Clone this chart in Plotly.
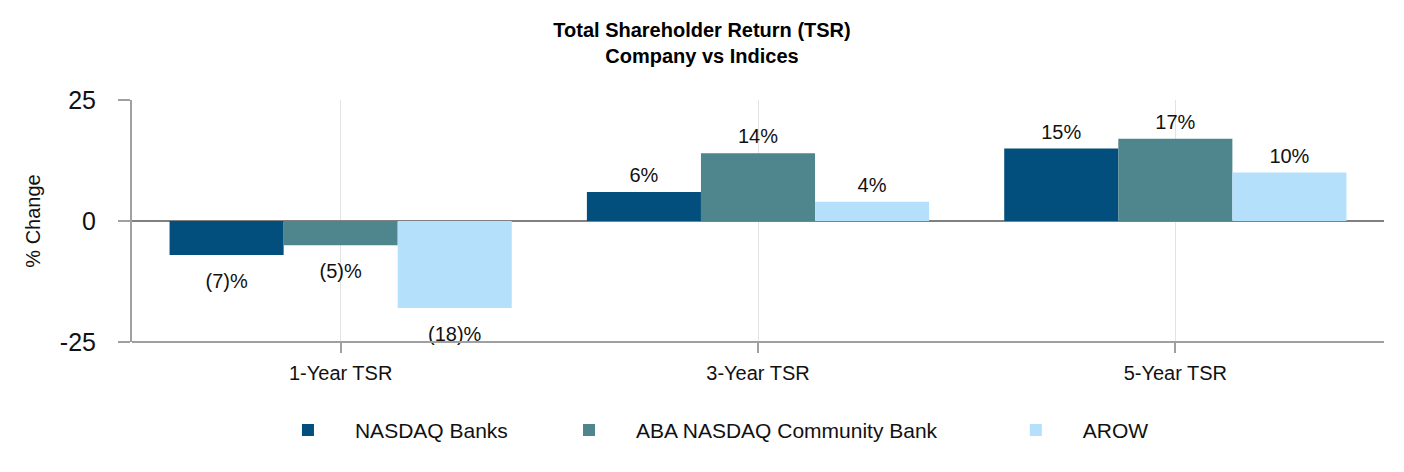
import plotly.graph_objects as go

categories = ["1-Year TSR", "3-Year TSR", "5-Year TSR"]
series_names = ["NASDAQ Banks", "ABA NASDAQ Community Bank", "AROW"]
nasdaq_banks = [-7, 6, 15]
aba_community = [-5, 14, 17]
arow = [-18, 4, 10]
colors = ["#024E7C", "#4F858C", "#B5E0FC"]
y_ticks = [25, 0, -25]

BARGAP = 0.18
LEGEND_PAD = [5, 8, 8]


def fmt(v):
    return f"({abs(v)})%" if v < 0 else f"{v}%"


fig = go.Figure()
for i, (name, vals, col) in enumerate(zip(series_names, [nasdaq_banks, aba_community, arow], colors)):
    fig.add_trace(go.Bar(
        x=categories, y=vals, name=name + "\u00a0" * LEGEND_PAD[i],
        marker=dict(color=col, line=dict(width=0)),
        offsetgroup=str(i), hoverinfo="skip",
    ))
for i, vals in enumerate([nasdaq_banks, aba_community, arow]):
    fig.add_trace(go.Scatter(
        x=categories, y=vals, mode="markers+text", showlegend=False,
        offsetgroup=str(i), hoverinfo="skip",
        marker=dict(size=[27 if v < 0 else 6 for v in vals], color="rgba(0,0,0,0)",
                    line=dict(width=0)),
        text=[fmt(v) for v in vals],
        textposition=["bottom center" if v < 0 else "top center" for v in vals],
        textfont=dict(size=20, color="#111"), cliponaxis=False,
    ))

fig.update_layout(
    width=1404, height=472,
    margin=dict(l=132, r=20, t=100, b=130, autoexpand=False),
    paper_bgcolor="white", plot_bgcolor="white",
    font=dict(family="Liberation Sans, Arial, sans-serif", color="#111"),
    title=dict(text="<b>Total Shareholder Return (TSR)</b><br><b>Company vs Indices</b>",
               x=0.5, xanchor="center", y=1 - 37 / 472, yanchor="middle",
               font=dict(size=20, color="#000")),
    barmode="group", bargap=BARGAP, bargroupgap=0,
    scattermode="group", scattergap=BARGAP,
    xaxis=dict(showline=True, linecolor="#a0a0a0", linewidth=2, mirror=False,
               showgrid=True, gridcolor="#e3e3e3", gridwidth=1,
               ticks="outside", ticklen=10, tickcolor="#a0a0a0", tickwidth=2,
               ticklabelstandoff=3,
               tickfont=dict(size=20, color="#111"), anchor="free", position=0),
    yaxis=dict(range=[-25, 25], tickvals=y_ticks, ticktext=[str(v) for v in y_ticks],
               showline=True, linecolor="#a0a0a0", linewidth=2,
               showgrid=True, gridcolor="#e3e3e3", gridwidth=1,
               zeroline=True, zerolinecolor="#808080", zerolinewidth=2,
               ticks="outside", ticklen=12, tickcolor="#a0a0a0", tickwidth=2,
               ticklabelstandoff=17,
               tickfont=dict(size=25, color="#111"),
               title=dict(text="% Change", font=dict(size=20, color="#111"), standoff=14)),
    legend=dict(orientation="h", x=0.478, xanchor="center",
                y=-0.28, yanchor="top",
                font=dict(size=21, color="#111"), itemwidth=84, traceorder="normal"),
)

fig.write_html("out.html")
